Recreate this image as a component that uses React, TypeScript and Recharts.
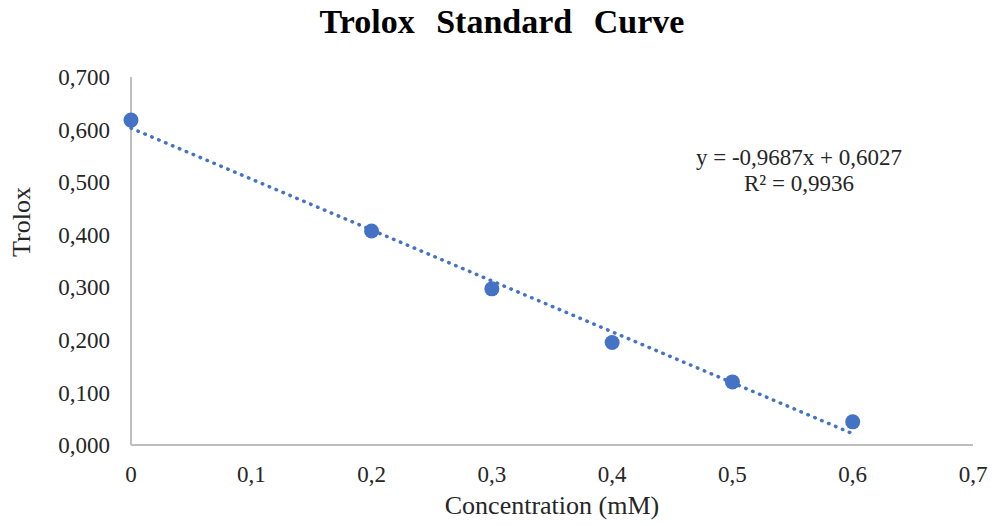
import React from 'react';
import { ScatterChart, Scatter, XAxis, YAxis } from 'recharts';

const concentration = [0, 0.2, 0.3, 0.4, 0.5, 0.6];
const trolox = [0.618, 0.407, 0.297, 0.195, 0.12, 0.044];
const trendX = [0, 0.6];
const trendY = [0.6027, 0.0215];
const xTicks = [0, 0.1, 0.2, 0.3, 0.4, 0.5, 0.6, 0.7];
const yTicks = [0, 0.1, 0.2, 0.3, 0.4, 0.5, 0.6, 0.7];

const points = concentration.map((x, i) => ({ x, y: trolox[i] }));
const trend = trendX.map((x, i) => ({ x, y: trendY[i] }));

const FONT = '"Liberation Serif", "Times New Roman", serif';
const BLUE = '#4472C4';
const AXIS = '#BFBFBF';

const fmtX = (v: number) => (v === 0 ? '0' : v.toFixed(1).replace('.', ','));
const fmtY = (v: number) => v.toFixed(3).replace('.', ',');

const Dot = (props: any) => <circle cx={props.cx} cy={props.cy} r={7.5} fill={BLUE} />;
const NoDot = () => <g />;

const App: React.FC = () => {
  const tickStyle = { fontFamily: FONT, fontSize: 23, fill: '#262626' };
  return (
    <div style={{ position: 'absolute', left: 0, top: 0, width: 994, height: 526, background: '#fff', fontFamily: FONT, color: '#000' }}>
      <ScatterChart width={994} height={526} margin={{ top: 77, right: 21, bottom: 0, left: 0 }}>
        <XAxis
          type="number"
          dataKey="x"
          domain={[0, 0.7]}
          ticks={xTicks}
          tickFormatter={fmtX}
          tick={tickStyle}
          tickLine={false}
          tickSize={0}
          tickMargin={21}
          height={81}
          axisLine={{ stroke: AXIS, strokeWidth: 2 }}
          interval={0}
        />
        <YAxis
          type="number"
          dataKey="y"
          domain={[0, 0.7]}
          ticks={yTicks}
          tickFormatter={fmtY}
          tick={tickStyle}
          tickLine={false}
          tickSize={0}
          tickMargin={21}
          width={131}
          axisLine={{ stroke: AXIS, strokeWidth: 2 }}
          interval={0}
        />
        <Scatter
          data={trend}
          line={{ stroke: BLUE, strokeWidth: 3.5, strokeDasharray: '0.5 7', strokeLinecap: 'round' }}
          shape={NoDot}
          isAnimationActive={false}
        />
        <Scatter data={points} shape={Dot} isAnimationActive={false} />
      </ScatterChart>
      <div style={{ position: 'absolute', left: 0, width: 1004, top: 2, textAlign: 'center', fontSize: 34, fontWeight: 'bold', wordSpacing: 13, lineHeight: '40px' }}>
        Trolox Standard Curve
      </div>
      <div style={{ position: 'absolute', left: 352, width: 400, top: 490, textAlign: 'center', fontSize: 26, color: '#262626', lineHeight: '32px' }}>
        Concentration (mM)
      </div>
      <div style={{ position: 'absolute', left: 22, top: 222, width: 0, height: 0 }}>
        <div style={{ position: 'absolute', left: -100, top: -16, width: 200, textAlign: 'center', fontSize: 26, color: '#262626', lineHeight: '32px', transform: 'rotate(-90deg)' }}>
          Trolox
        </div>
      </div>
      <div style={{ position: 'absolute', left: 599, width: 400, top: 145, textAlign: 'center', fontSize: 23, color: '#262626', lineHeight: '26px' }}>
        y = -0,9687x + 0,6027
        <br />
        R² = 0,9936
      </div>
    </div>
  );
};

export default App;
